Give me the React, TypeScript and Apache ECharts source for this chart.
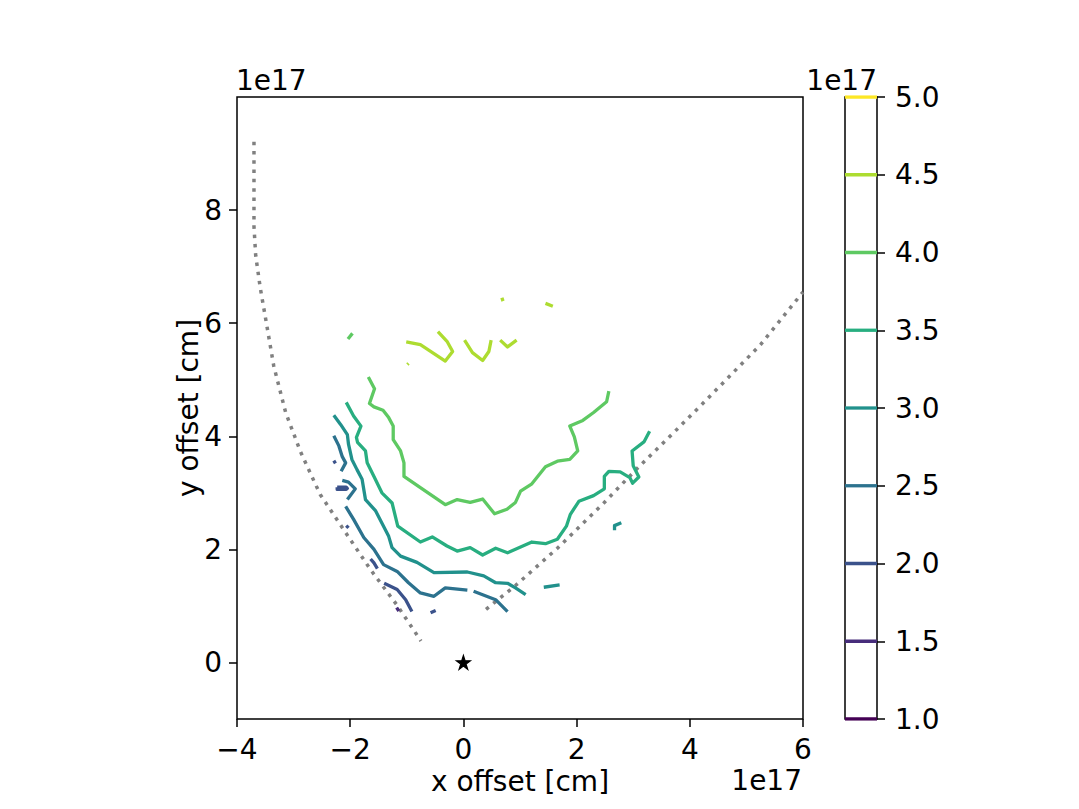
import React, { useEffect, useRef } from "react";
import * as echarts from "echarts";

// ---- data (units of 1e17 cm) ----
const levels = [1.0, 1.5, 2.0, 2.5, 3.0, 3.5, 4.0, 4.5, 5.0];
const levelColors = ["#440154", "#472d7b", "#3b528b", "#2c728e", "#21918c", "#28ae80", "#5ec962", "#addc30", "#fde725"];

const xTicks = [-4, -2, 0, 2, 4, 6];
const yTicks = [0, 2, 4, 6, 8];

// level 4.5
const c45a = [[-1.01, 5.67], [-0.76, 5.62], [-0.32, 5.33], [-0.19, 5.5], [-0.29, 5.68], [-0.45, 5.85]];
const c45b = [[-0.99, 5.27], [-0.97, 5.29]];
const c45c = [[0.02, 5.7], [0.16, 5.48], [0.34, 5.34], [0.45, 5.5], [0.49, 5.7]];
const c45d = [[0.65, 5.7], [0.78, 5.58], [0.94, 5.7]];
const c45e = [[0.68, 6.45], [0.7, 6.39]];
const c45f = [[1.45, 6.35], [1.58, 6.3]];
// level 4.0
const c40a = [[-2.04, 5.72], [-1.96, 5.82]];
const c40b = [[-1.68, 5.05], [-1.57, 4.84], [-1.66, 4.58], [-1.58, 4.52], [-1.42, 4.46], [-1.32, 4.33], [-1.24, 4.18], [-1.24, 3.94], [-1.11, 3.74], [-1.05, 3.53], [-1.05, 3.29], [-0.76, 3.09], [-0.32, 2.79], [-0.11, 2.88], [0.12, 2.83], [0.34, 2.89], [0.55, 2.63], [0.77, 2.71], [0.92, 2.83], [1.01, 3.03], [1.21, 3.16], [1.45, 3.46], [1.66, 3.56], [1.88, 3.59], [2.02, 3.74], [1.96, 3.99], [1.88, 4.18], [2.11, 4.28], [2.3, 4.42], [2.53, 4.61], [2.57, 4.8]];
// level 3.5
const c35a = [[-2.07, 4.6], [-1.94, 4.36], [-1.81, 4.18], [-1.89, 3.98], [-1.87, 3.89], [-1.73, 3.74], [-1.7, 3.53], [-1.58, 3.29], [-1.44, 3.0], [-1.26, 2.82], [-1.16, 2.41], [-0.76, 2.13], [-0.55, 2.22], [-0.29, 2.06], [-0.11, 1.97], [0.12, 2.03], [0.34, 1.9], [0.57, 2.02], [0.78, 1.94], [1.01, 2.04], [1.21, 2.13], [1.45, 2.1], [1.66, 2.18], [1.82, 2.41], [1.89, 2.62], [2.04, 2.85], [2.3, 2.95], [2.49, 3.07], [2.49, 3.29], [2.57, 3.38], [2.77, 3.37], [2.94, 3.27], [2.99, 3.17], [3.1, 3.28], [3.0, 3.48], [2.98, 3.74], [3.19, 3.9], [3.29, 4.09]];
// level 3.0
const c30a = [[-2.29, 4.37], [-2.17, 4.21], [-2.05, 4.03], [-2.03, 3.86], [-1.97, 3.59], [-1.88, 3.41], [-1.79, 3.24], [-1.73, 2.88], [-1.55, 2.68], [-1.32, 2.23], [-1.26, 2.03], [-1.11, 1.88], [-0.82, 1.77], [-0.52, 1.59], [0.07, 1.6], [0.36, 1.53], [0.57, 1.41], [0.78, 1.4], [0.92, 1.32], [1.1, 1.2]];
const c30b = [[1.42, 1.33], [1.7, 1.37]];
const c30c = [[2.67, 2.34], [2.67, 2.42], [2.79, 2.47]];
// level 2.5
const c25a = [[-2.29, 4.01], [-2.2, 3.83], [-2.14, 3.64], [-2.08, 3.53], [-2.16, 3.38]];
const c25b = [[-2.14, 3.22], [-2.03, 3.19], [-1.91, 3.07], [-2.05, 2.88]];
const c25c = [[-2.08, 2.76], [-1.94, 2.53], [-1.76, 2.21], [-1.58, 2.0], [-1.41, 1.73], [-1.17, 1.61], [-0.97, 1.41], [-0.76, 1.23], [-0.52, 1.17], [-0.32, 1.32], [0.07, 1.28]];
const c25d = [[0.18, 1.26], [0.57, 1.11], [0.78, 0.9]];
// level 2.0
const c20a = [[-2.29, 3.57], [-2.26, 3.52]];
const c20b = [[-2.23, 3.1], [-2.07, 3.1], [-2.05, 3.08], [-2.07, 3.06], [-2.23, 3.06], [-2.23, 3.1]];
const c20c = [[-2.07, 2.42], [-2.03, 2.38]];
const c20d = [[-1.64, 1.83], [-1.58, 1.76], [-1.52, 1.66]];
const c20e = [[-1.4, 1.4], [-1.17, 1.29], [-1.02, 1.11], [-0.91, 0.9]];
const c20f = [[-0.58, 0.88], [-0.49, 0.92]];
// level 1.5
const c15a = [[-1.18, 0.97], [-1.14, 0.91]];

const contourSegments = [
  { level: 4.5, pts: c45a }, { level: 4.5, pts: c45b }, { level: 4.5, pts: c45c },
  { level: 4.5, pts: c45d }, { level: 4.5, pts: c45e }, { level: 4.5, pts: c45f },
  { level: 4.0, pts: c40a }, { level: 4.0, pts: c40b },
  { level: 3.5, pts: c35a },
  { level: 3.0, pts: c30a }, { level: 3.0, pts: c30b }, { level: 3.0, pts: c30c },
  { level: 2.5, pts: c25a }, { level: 2.5, pts: c25b }, { level: 2.5, pts: c25c }, { level: 2.5, pts: c25d },
  { level: 2.0, pts: c20a }, { level: 2.0, pts: c20b }, { level: 2.0, pts: c20c },
  { level: 2.0, pts: c20d }, { level: 2.0, pts: c20e }, { level: 2.0, pts: c20f },
  { level: 1.5, pts: c15a },
];

const leftBoundary = [[-3.7, 9.21], [-3.7, 7.71], [-3.67, 7.2], [-3.59, 6.63], [-3.47, 5.94], [-3.35, 5.24], [-3.14, 4.42], [-2.88, 3.73], [-2.53, 2.97], [-2.11, 2.34], [-1.64, 1.64], [-1.17, 1.01], [-0.75, 0.38]];
const rightBoundary = [[0.4, 0.94], [0.92, 1.36], [1.66, 2.02], [2.48, 2.82], [3.04, 3.4], [3.75, 4.1], [4.22, 4.57], [5.25, 5.62], [6.0, 6.55]];
const sourcePoint = [[0, 0]];

const FONT = "DejaVu Sans";
const STAR = "path://M50,0 L61.8,35.1 L100,35.1 L69.1,57.3 L80.9,92.7 L50,70.5 L19.1,92.7 L30.9,57.3 L0,35.1 L38.2,35.1 Z";

function colorOf(level: number) {
  return levelColors[levels.indexOf(level)];
}

function fmt(v: number) {
  return v < 0 ? "\u2212" + Math.abs(v) : String(v);
}

export default function App() {
  const ref = useRef<HTMLDivElement>(null);
  useEffect(() => {
    if (!ref.current) return;
    const chart = echarts.init(ref.current, undefined, { renderer: "svg" });
    const series: any[] = [];
    series.push({
      type: "line", xAxisIndex: 0, yAxisIndex: 0, data: leftBoundary, symbol: "none",
      lineStyle: { color: "#808080", width: 3.5, type: [3.5, 5.8], cap: "butt" }, z: 2,
    });
    series.push({
      type: "line", xAxisIndex: 0, yAxisIndex: 0, data: rightBoundary, symbol: "none",
      lineStyle: { color: "#808080", width: 3.5, type: [3.5, 5.8], cap: "butt" }, z: 2,
    });
    contourSegments.forEach((s) => {
      series.push({
        type: "line", xAxisIndex: 0, yAxisIndex: 0, data: s.pts, symbol: "none",
        lineStyle: { color: colorOf(s.level), width: 3.3, join: "round" }, z: 3,
      });
    });
    series.push({
      type: "scatter", xAxisIndex: 0, yAxisIndex: 0, data: sourcePoint, symbol: STAR, symbolSize: 14,
      itemStyle: { color: "#000", borderColor: "#000", borderWidth: 1.2, opacity: 1 }, z: 4,
    });
    levels.forEach((l, i) => {
      series.push({
        type: "line", xAxisIndex: 1, yAxisIndex: 1, data: [[0, l], [1, l]], symbol: "none",
        lineStyle: { color: levelColors[i], width: 3.3 }, z: 3,
      });
    });

    const option: any = {
      animation: false,
      backgroundColor: "#fff",
      textStyle: { fontFamily: FONT },
      grid: [
        { left: 237, top: 97, width: 566, height: 622, show: true, borderColor: "#000", borderWidth: 1.5, backgroundColor: "transparent" },
        { left: 845, top: 97, width: 32, height: 622, show: true, borderColor: "#000", borderWidth: 1.5, backgroundColor: "transparent" },
      ],
      xAxis: [
        {
          type: "value", gridIndex: 0, min: -4, max: 6, interval: 2, position: "bottom",
          axisLine: { show: false, onZero: false }, splitLine: { show: false },
          axisTick: { show: true, inside: false, length: 8, lineStyle: { color: "#000", width: 1.5 } },
          axisLabel: { fontSize: 28, fontFamily: FONT, color: "#000", margin: 16, formatter: (v: number) => fmt(v) },
        },
        { type: "value", gridIndex: 1, min: 0, max: 1, show: false, axisLine: { onZero: false } },
      ],
      yAxis: [
        {
          type: "value", gridIndex: 0, min: -1, max: 10, interval: 1, position: "left",
          axisLine: { show: false, onZero: false }, splitLine: { show: false },
          axisTick: { show: true, inside: false, length: 8, lineStyle: { color: "#000", width: 1.5 }, customValues: yTicks },
          axisLabel: { fontSize: 28, fontFamily: FONT, color: "#000", margin: 15, formatter: (v: number) => fmt(v), customValues: yTicks },
        },
        {
          type: "value", gridIndex: 1, min: 1, max: 5, interval: 0.5, position: "right",
          axisLine: { show: false, onZero: false }, splitLine: { show: false },
          axisTick: { show: true, inside: false, length: 8, lineStyle: { color: "#000", width: 1.5 } },
          axisLabel: { fontSize: 28, fontFamily: FONT, color: "#000", margin: 18, formatter: (v: number) => v.toFixed(1) },
        },
      ],
      graphic: [
        { type: "text", x: 520, y: 781, style: { text: "x offset [cm]", font: `28px '${FONT}'`, fill: "#000", textAlign: "center", textVerticalAlign: "middle", verticalAlign: "middle" } },
        { type: "text", x: 188, y: 408, rotation: Math.PI / 2, style: { text: "y offset [cm]", font: `28px '${FONT}'`, fill: "#000", textAlign: "center", textVerticalAlign: "middle", verticalAlign: "middle" } },
        { type: "text", x: 236, y: 80, style: { text: "1e17", font: `28px '${FONT}'`, fill: "#000", textAlign: "left", textVerticalAlign: "middle", verticalAlign: "middle" } },
        { type: "text", x: 802, y: 780, style: { text: "1e17", font: `28px '${FONT}'`, fill: "#000", textAlign: "right", textVerticalAlign: "middle", verticalAlign: "middle" } },
        { type: "text", x: 877, y: 80, style: { text: "1e17", font: `28px '${FONT}'`, fill: "#000", textAlign: "right", textVerticalAlign: "middle", verticalAlign: "middle" } },
      ],
      series,
    };
    chart.setOption(option);
    return () => chart.dispose();
  }, []);
  return <div ref={ref} style={{ width: 1079, height: 809, margin: -8 }} />;
}
